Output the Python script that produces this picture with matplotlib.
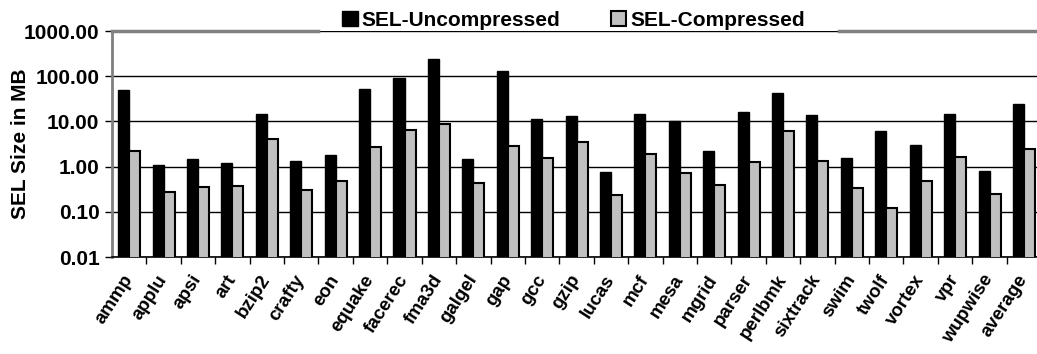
import numpy as np
import matplotlib.pyplot as plt
from matplotlib.ticker import FixedLocator, FuncFormatter, NullLocator

plt.rcParams['font.family'] = ['Liberation Sans', 'DejaVu Sans']
plt.rcParams['font.weight'] = 'bold'

benchmarks = ['ammp', 'applu', 'apsi', 'art', 'bzip2', 'crafty', 'eon', 'equake',
              'facerec', 'fma3d', 'galgel', 'gap', 'gcc', 'gzip', 'lucas', 'mcf',
              'mesa', 'mgrid', 'parser', 'perlbmk', 'sixtrack', 'swim', 'twolf',
              'vortex', 'vpr', 'wupwise', 'average']
uncompressed = [50.0, 1.07, 1.45, 1.19, 14.9, 1.34, 1.79, 51.5, 90.0, 245.0, 1.45,
                133.0, 11.2, 13.0, 0.75, 14.7, 10.0, 2.19, 15.9, 42.6, 13.9, 1.56,
                6.3, 3.02, 14.6, 0.80, 24.4]
compressed = [2.2, 0.28, 0.36, 0.38, 4.1, 0.31, 0.47, 2.7, 6.4, 8.8, 0.44, 2.9,
              1.56, 3.57, 0.23, 1.91, 0.72, 0.40, 1.27, 6.2, 1.32, 0.33, 0.12,
              0.47, 1.64, 0.25, 2.47]

fig = plt.figure(figsize=(10.37, 3.54), dpi=100)
ax = fig.add_axes([0.108, 0.274, 0.896, 0.638])

x = np.arange(len(benchmarks))
w = 0.32
ax.bar(x - w / 2, uncompressed, w, color='black', edgecolor='black', linewidth=1,
       label='SEL-Uncompressed', zorder=3)
ax.bar(x + w / 2, compressed, w, color='#c0c0c0', edgecolor='black', linewidth=1.5,
       label='SEL-Compressed', zorder=3)

ax.set_yscale('log')
ax.set_ylim(0.01, 1000)
ax.set_xlim(-0.5, len(benchmarks) - 0.5)
ax.yaxis.set_major_locator(FixedLocator([0.01, 0.1, 1, 10, 100, 1000]))
ax.yaxis.set_minor_locator(NullLocator())
ax.yaxis.set_major_formatter(FuncFormatter(lambda v, p: '%.2f' % v))
ax.grid(axis='y', color='black', linewidth=1, zorder=0)
ax.tick_params(axis='y', labelsize=15, length=5, width=1, pad=4)

ax.set_xticks(x)
ax.set_xticklabels(benchmarks, rotation=57, ha='right', va='center',
                   rotation_mode='anchor', fontsize=13.5)
ax.set_xticks(x[:-1] + 0.5, minor=True)
ax.tick_params(axis='x', which='major', length=0, pad=14)
ax.tick_params(axis='x', which='minor', length=5, width=1)

fig.text(0.02, 0.595, 'SEL Size in MB', rotation=90, ha='center', va='center',
         fontsize=15, fontweight='bold')

# top border is broken where the legend sits
ax.spines['top'].set_visible(False)
ax.spines['right'].set_visible(False)
ax.axhline(1000, 0, 0.222, color='#808080', linewidth=2.5, clip_on=False, zorder=4)
ax.axhline(1000, 0.782, 1, color='#808080', linewidth=2.5, clip_on=False, zorder=4)
ax.spines['left'].set_color('#808080')
ax.spines['left'].set_linewidth(2)
ax.spines['bottom'].set_linewidth(1.2)

fig.legend(loc='center', bbox_to_anchor=(0.553, 0.942), ncol=2,
           prop={'size': 15, 'weight': 'bold'}, frameon=False,
           handlelength=0.75, handleheight=0.75, handletextpad=0.2,
           columnspacing=2.4)

fig.savefig('out.png', dpi=100)
